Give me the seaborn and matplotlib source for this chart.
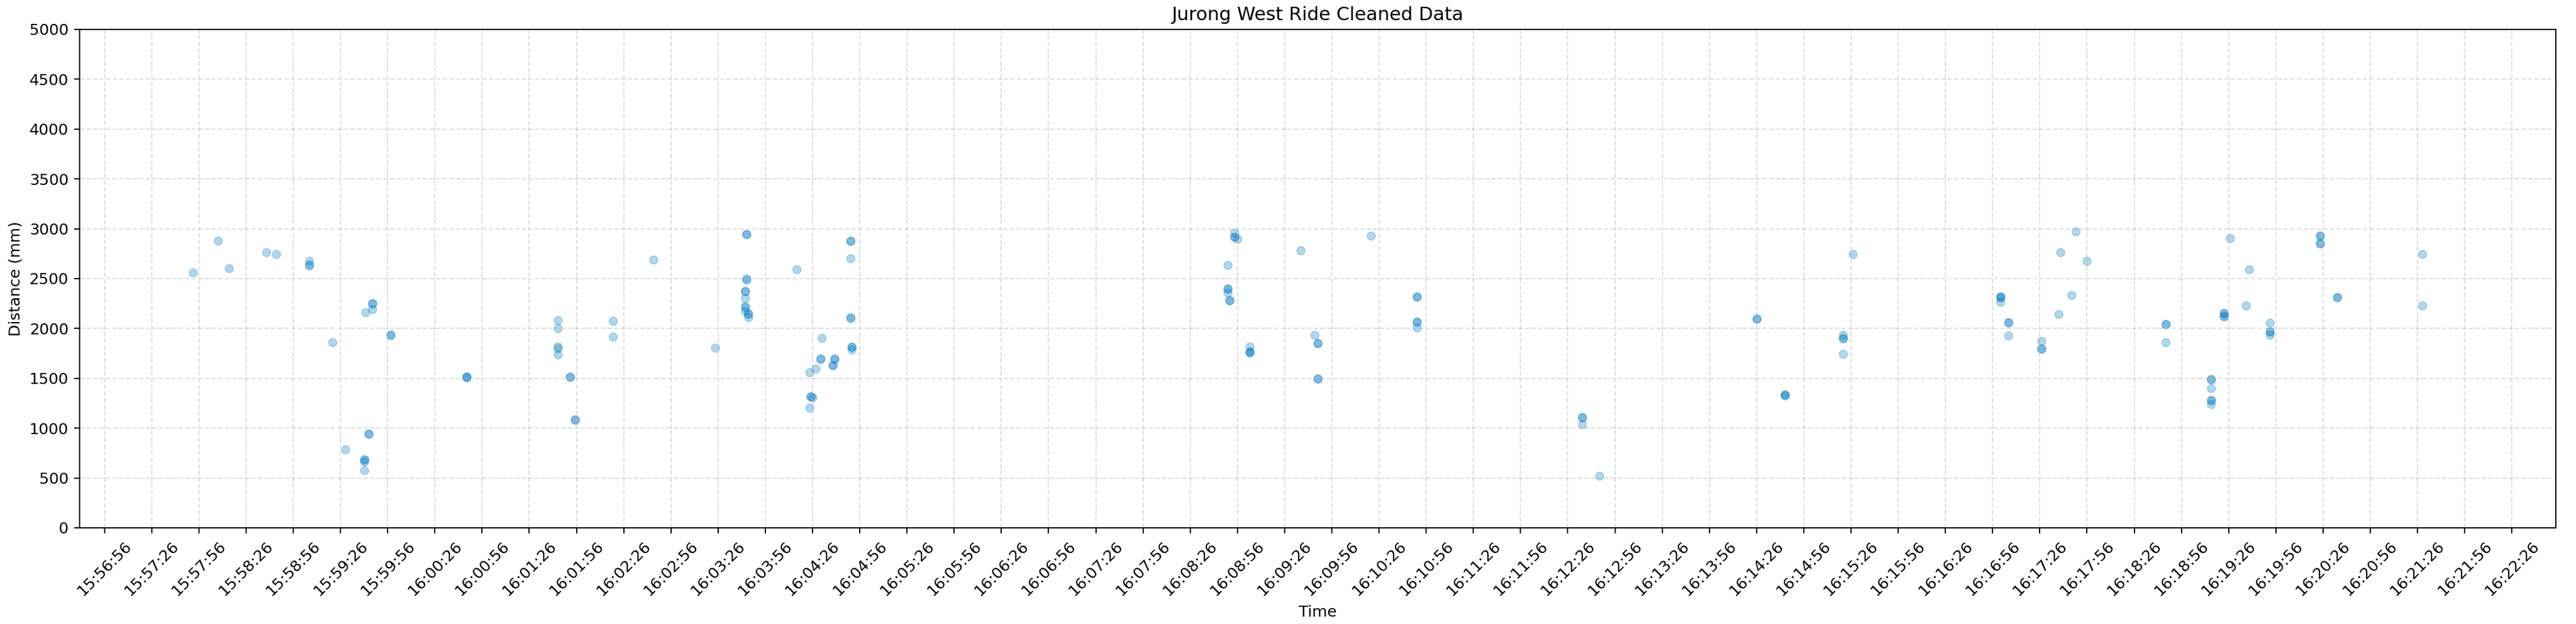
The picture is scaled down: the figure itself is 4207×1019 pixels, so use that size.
import pandas as pd
import matplotlib
matplotlib.use("Agg")
import matplotlib.pyplot as plt
import matplotlib.dates as mdates
import seaborn as sns

# Readings taken off the chart (time of day, distance in mm)
times = [
    "15:57:52", "15:58:08", "15:58:15", "15:58:39", "15:58:45",
    "15:59:06", "15:59:06", "15:59:06", "15:59:21", "15:59:29",
    "15:59:41", "15:59:41", "15:59:41", "15:59:41", "15:59:42",
    "15:59:44", "15:59:44", "15:59:46", "15:59:46", "15:59:46",
    "15:59:58", "15:59:58",
    "16:00:46", "16:00:46", "16:00:46",
    "16:01:44", "16:01:44", "16:01:44", "16:01:44", "16:01:44",
    "16:01:52", "16:01:52", "16:01:55", "16:01:55",
    "16:02:19", "16:02:19", "16:02:45",
    "16:03:24", "16:03:44", "16:03:44", "16:03:44", "16:03:44",
    "16:03:43", "16:03:43", "16:03:43", "16:03:43", "16:03:43", "16:03:43",
    "16:03:45", "16:03:45", "16:03:45",
    "16:04:16", "16:04:24", "16:04:24", "16:04:25", "16:04:25", "16:04:26",
    "16:04:28", "16:04:31", "16:04:31", "16:04:32", "16:04:39", "16:04:39",
    "16:04:40", "16:04:40", "16:04:50", "16:04:50", "16:04:50", "16:04:50",
    "16:04:50", "16:04:51", "16:04:51", "16:04:51",
    "16:08:50", "16:08:50", "16:08:50", "16:08:50", "16:08:51", "16:08:51",
    "16:08:54", "16:08:54", "16:08:54", "16:08:56",
    "16:09:04", "16:09:04", "16:09:04", "16:09:04",
    "16:09:36", "16:09:45", "16:09:47", "16:09:47", "16:09:47", "16:09:47",
    "16:10:21", "16:10:50", "16:10:50", "16:10:50", "16:10:50", "16:10:50",
    "16:12:35", "16:12:35", "16:12:35", "16:12:46",
    "16:14:26", "16:14:26", "16:14:44", "16:14:44", "16:14:44",
    "16:15:21", "16:15:21", "16:15:21", "16:15:21", "16:15:27",
    "16:17:01", "16:17:01", "16:17:01", "16:17:01",
    "16:17:06", "16:17:06", "16:17:06",
    "16:17:27", "16:17:27", "16:17:27",
    "16:17:38", "16:17:39", "16:17:46", "16:17:49", "16:17:56",
    "16:18:46", "16:18:46", "16:18:46",
    "16:19:15", "16:19:15", "16:19:15", "16:19:15", "16:19:15", "16:19:15",
    "16:19:23", "16:19:23", "16:19:23", "16:19:23",
    "16:19:27", "16:19:37", "16:19:39",
    "16:19:52", "16:19:52", "16:19:52", "16:19:52",
    "16:20:24", "16:20:24", "16:20:24", "16:20:24",
    "16:20:35", "16:20:35", "16:21:29", "16:21:29",
]

distances = [
    2562, 2881, 2605, 2764, 2746,
    2680, 2640, 2630, 1861, 786,
    690, 680, 665, 577, 2162,
    946, 940, 2254, 2245, 2193,
    1940, 1930,
    1520, 1515, 1505,
    2085, 2003, 1815, 1800, 1737,
    1520, 1510, 1090, 1082,
    2075, 1915, 2690,
    1808, 2949, 2940, 2500, 2490,
    2380, 2370, 2304, 2222, 2212, 2175,
    2150, 2145, 2113,
    2592, 1206, 1562, 1320, 1315, 1310,
    1595, 1700, 1692, 1905, 1634, 1628,
    1700, 1692, 2881, 2875, 2703, 2110,
    2100, 1818, 1810, 1790,
    2638, 2400, 2395, 2358, 2285, 2278,
    2962, 2920, 2915, 2897,
    1815, 1768, 1763, 1758,
    2780, 1937, 1855, 1848, 1500, 1494,
    2930, 2320, 2314, 2068, 2062, 2009,
    1110, 1104, 1036, 519,
    2100, 2092, 1338, 1333, 1328,
    1937, 1906, 1900, 1743, 2743,
    2320, 2317, 2312, 2266,
    2063, 2058, 1927,
    1876, 1802, 1795,
    2143, 2766, 2337, 2971, 2680,
    2046, 2042, 1862,
    1490, 1484, 1399, 1285, 1279, 1240,
    2155, 2150, 2124, 2120,
    2905, 2229, 2594,
    2057, 1970, 1965, 1937,
    2932, 2928, 2856, 2852,
    2318, 2312, 2745, 2229,
]

DAY = "2024-01-01 "
TICK_START = "15:56:56"
TICK_END = "16:22:26"
X_MIN = "15:56:40"
X_MAX = "16:22:54"

MARKER_COLOR = "#0079bf"


def main():
    df = pd.DataFrame({
        "Time": pd.to_datetime([DAY + t for t in times]),
        "Distance (mm)": distances,
    })

    dpi = 183
    fig = plt.figure(figsize=(4207 / dpi, 1019 / dpi), dpi=dpi)
    ax = fig.add_axes([0.0308, 0.1541, 0.9614, 0.7988])

    sns.scatterplot(
        data=df,
        x="Time",
        y="Distance (mm)",
        ax=ax,
        color=MARKER_COLOR,
        alpha=0.3,
        s=28,
        edgecolor=MARKER_COLOR,
        linewidth=0.5,
    )

    ticks = pd.date_range(DAY + TICK_START, DAY + TICK_END, freq="30s")
    ax.set_xticks(ticks)
    ax.xaxis.set_major_formatter(mdates.DateFormatter("%H:%M:%S"))
    plt.setp(ax.get_xticklabels(), rotation=45)
    ax.set_xlim(pd.Timestamp(DAY + X_MIN), pd.Timestamp(DAY + X_MAX))

    ax.set_ylim(0, 5000)
    ax.set_yticks(range(0, 5001, 500))

    ax.set_title("Jurong West Ride Cleaned Data")
    ax.set_xlabel("Time")
    ax.set_ylabel("Distance (mm)")
    ax.grid(True, linestyle="--", alpha=0.4)

    fig.savefig("out.png", dpi=dpi)
    plt.close(fig)


if __name__ == "__main__":
    main()
